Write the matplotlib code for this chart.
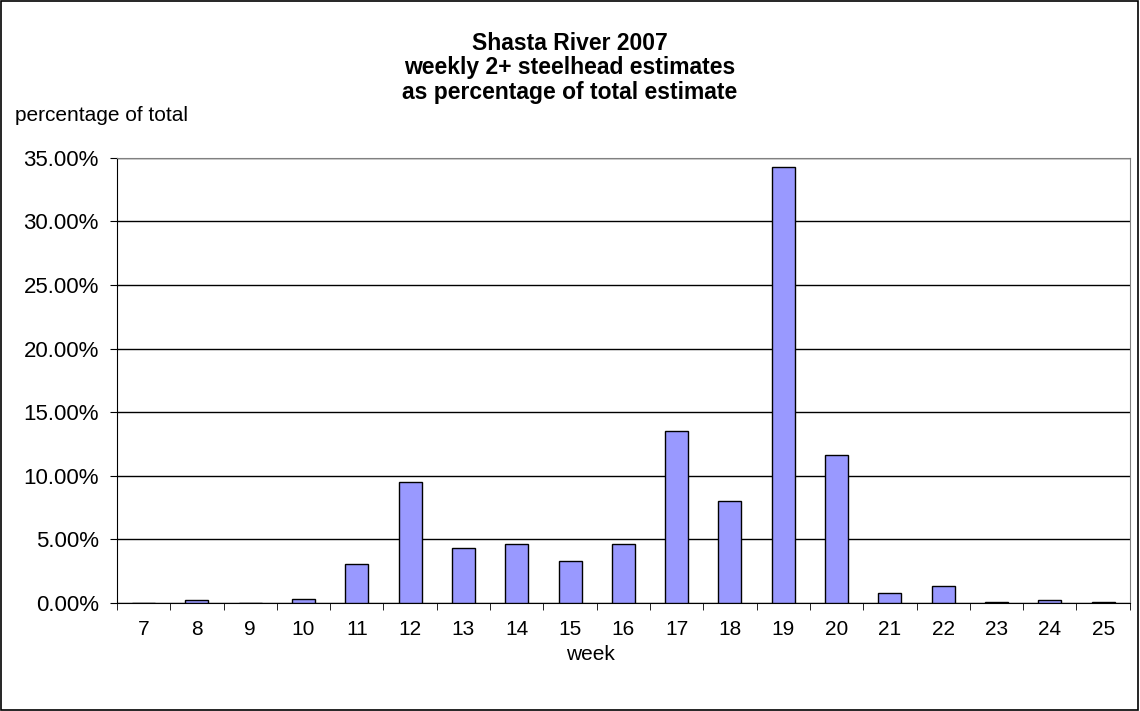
import numpy as np
import matplotlib.pyplot as plt
from matplotlib.ticker import FuncFormatter, FixedLocator
from matplotlib.patches import Rectangle

weeks = [7, 8, 9, 10, 11, 12, 13, 14, 15, 16, 17, 18, 19, 20, 21, 22, 23, 24, 25]
pct = [0.0, 0.2, 0.0, 0.3, 3.1, 9.5, 4.3, 4.6, 3.3, 4.6, 13.5, 8.0, 34.3, 11.6,
       0.8, 1.3, 0.05, 0.2, 0.05]

plt.rcParams['font.family'] = ['Liberation Sans', 'DejaVu Sans']

fig = plt.figure(figsize=(11.4, 7.11), dpi=100)
fig.patches.append(Rectangle((0.001, 0.001), 0.997, 0.997, transform=fig.transFigure,
                             fill=False, edgecolor='black', linewidth=1.2))

ax = fig.add_axes([0.1026, 0.152, 0.8884, 0.626])
x = np.arange(len(weeks))
ax.bar(x, pct, width=0.43, color='#9999FF', edgecolor='black', linewidth=1, zorder=3)

ax.set_xlim(-0.5, len(weeks) - 0.5)
ax.set_ylim(0, 35)
ax.set_yticks(np.arange(0, 36, 5))
ax.yaxis.set_major_formatter(FuncFormatter(lambda v, p: '%.2f%%' % v))
ax.grid(axis='y', color='black', linewidth=1, zorder=1)

ax.set_xticks(x)
ax.set_xticklabels([str(w) for w in weeks])
ax.xaxis.set_minor_locator(FixedLocator(np.arange(-0.5, len(weeks), 1)))
ax.tick_params(axis='x', which='major', length=0, pad=12, labelsize=15)
ax.tick_params(axis='x', which='minor', length=5, direction='out', color='black')
ax.tick_params(axis='y', length=5, direction='out', labelsize=16, pad=8)

for s in ['top', 'right']:
    ax.spines[s].set_color('gray')
for s in ['left', 'bottom']:
    ax.spines[s].set_color('black')

title_lines = ['Shasta River 2007', 'weekly 2+ steelhead estimates',
               'as percentage of total estimate']
for yy, line in zip([0.939, 0.905, 0.870], title_lines):
    fig.text(0.5, yy, line, ha='center', va='center', fontsize=16.5, fontweight='bold')
fig.text(0.013, 0.838, 'percentage of total', ha='left', va='center', fontsize=15)
fig.text(0.518, 0.079, 'week', ha='center', va='center', fontsize=15)

fig.savefig('out.png', dpi=100, facecolor='white')
